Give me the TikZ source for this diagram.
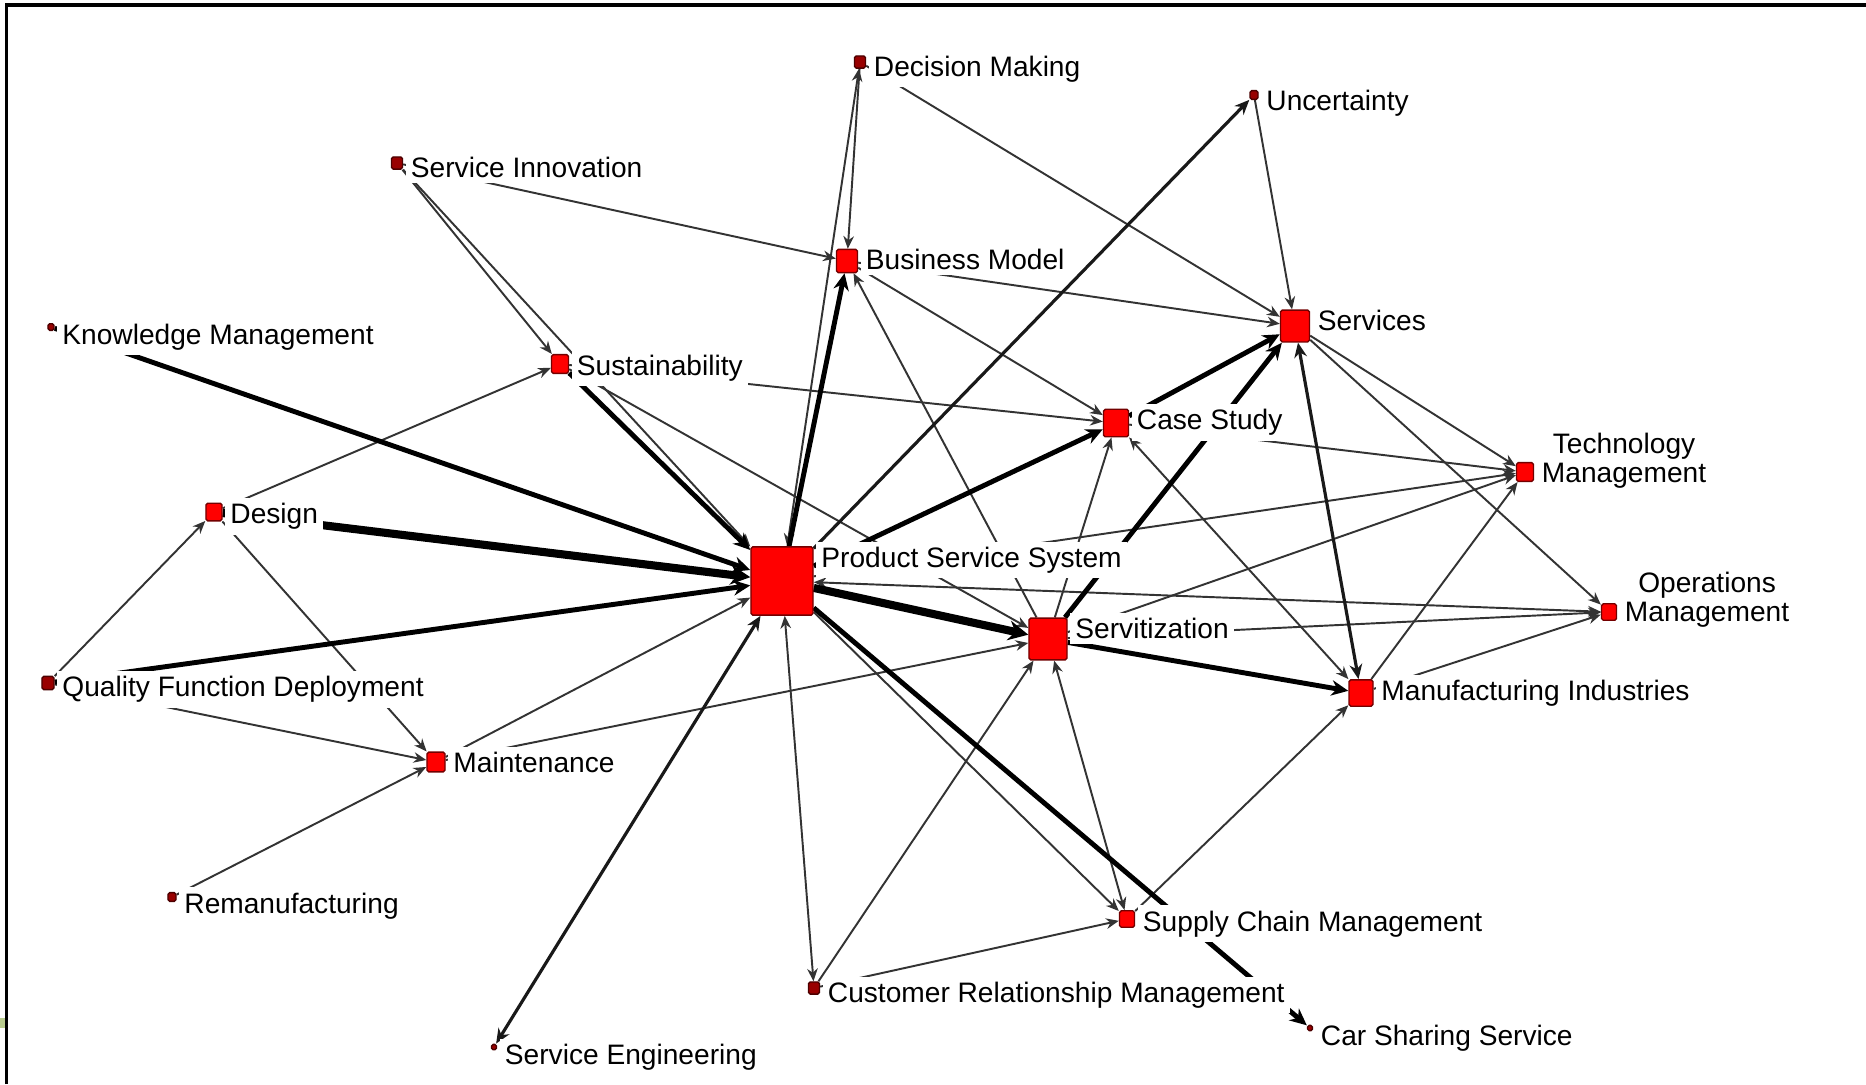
\documentclass[tikz,border=0pt]{standalone}
\usepackage{fontspec}
\setmainfont{Liberation Sans}
\usetikzlibrary{arrows.meta,positioning,backgrounds}
\definecolor{edgegreen}{RGB}{185,204,142}

\begin{document}
\begin{tikzpicture}[x=0.01cm, y=-0.01cm,
  kwbox/.style={draw=red!45!black, fill=red, line width=0.4pt, rounded corners=0.5pt,
    inner sep=0pt, minimum width=#1, minimum height=1.1*#1},
  kwdot/.style={kwbox=#1, fill=red!60!black, draw=red!30!black},
  kwtext/.style={fill=white, inner sep=1.5pt, text=black,
    font=\fontsize{8}{8.1}\selectfont},
  tie/.style={draw=black!80, line width=0.55pt, -{Stealth[length=3.6pt,width=3pt]}},
  tiemid/.style={draw=black!90, line width=0.9pt, -{Stealth[length=4.2pt,width=3.6pt]}},
  tiebold/.style={draw=black, line width=1.4pt, -{Stealth[length=4.8pt,width=4.4pt]}},
  tieheavy/.style={draw=black, line width=2.3pt, -{Stealth[length=5.6pt,width=5.6pt]}},
  twoway/.style={{Stealth[length=3.6pt,width=3pt]}-{Stealth[length=3.6pt,width=3pt]}},
  twowaymid/.style={{Stealth[length=4.2pt,width=3.6pt]}-{Stealth[length=4.2pt,width=3.6pt]}}
]
\useasboundingbox (0,0) rectangle (1866,1084);

% keyword squares
\node[kwdot=0.11cm] (decision) at (860,62) {};
\node[kwdot=0.08cm] (uncertainty) at (1254,95) {};
\node[kwdot=0.11cm] (innovation) at (397,163) {};
\node[kwbox=0.21cm] (business) at (847,261) {};
\node[kwbox=0.29cm] (services) at (1295,326) {};
\node[kwdot=0.06cm] (knowledge) at (51,327) {};
\node[kwbox=0.17cm] (sustain) at (560,364) {};
\node[kwbox=0.25cm] (casestudy) at (1116,423) {};
\node[kwbox=0.17cm] (technology) at (1525,472) {};
\node[kwbox=0.16cm] (design) at (214,512) {};
\node[kwbox=0.62cm] (pss) at (782,581) {};
\node[kwbox=0.15cm] (operations) at (1609,612) {};
\node[kwbox=0.38cm] (servitization) at (1048,639) {};
\node[kwdot=0.12cm] (qfd) at (48,683) {};
\node[kwbox=0.24cm] (manufacturing) at (1361,693) {};
\node[kwbox=0.18cm] (maintenance) at (436,762) {};
\node[kwdot=0.08cm] (reman) at (172,897) {};
\node[kwbox=0.15cm] (supply) at (1127,919) {};
\node[kwdot=0.11cm] (crm) at (814,988) {};
\node[kwdot=0.05cm] (carsharing) at (1310,1028) {};
\node[kwdot=0.05cm] (engineering) at (494,1047) {};

\begin{scope}[on background layer]
  \fill[white] (0,0) rectangle (1866,1084);
  \fill[edgegreen] (0,1018) rectangle (5,1028);
  \draw[line width=1.1pt] (6.5,1084) -- (6.5,5) -- (1866,5);
  % thin ties
  \foreach \a/\b in {innovation/business, innovation/sustain, innovation/pss, sustain/casestudy,
    sustain/servitization, design/sustain, design/maintenance, qfd/design, qfd/maintenance,
    reman/maintenance, maintenance/pss, maintenance/servitization, crm/servitization, crm/supply,
    pss/supply, supply/manufacturing, servitization/operations, uncertainty/services,
    business/services, business/casestudy, servitization/business, services/technology,
    services/operations, casestudy/technology, servitization/casestudy, pss/technology,
    servitization/technology, manufacturing/technology, manufacturing/operations,
    decision/services, decision/business}
    \draw[tie] (\a) -- (\b);
  \foreach \a/\b in {pss/crm, servitization/supply, pss/operations, casestudy/manufacturing,
    decision/pss}
    \draw[tie, twoway] (\a) -- (\b);
  % heavier ties
  \draw[tiemid, twowaymid] (engineering) -- (pss);
  \draw[tiemid, twowaymid] (services) -- (manufacturing);
  \draw[tiemid] (pss) -- (uncertainty);
  \foreach \a/\b in {sustain/pss, qfd/pss, knowledge/pss, pss/carsharing,
    servitization/manufacturing, pss/casestudy, casestudy/services, servitization/services,
    pss/business}
    \draw[tiebold] (\a) -- (\b);
  \foreach \a/\b in {design/pss, pss/servitization}
    \draw[tieheavy] (\a) -- (\b);
\end{scope}

% labels
\node[kwtext, below right=-1.5pt and 0.5pt of decision.north east] (decision-txt) {Decision Making};
\node[kwtext, below right=-1.5pt and 0.5pt of uncertainty.north east] (uncertainty-txt) {Uncertainty};
\node[kwtext, below right=-1.5pt and 0.5pt of innovation.north east] (innovation-txt) {Service Innovation};
\node[kwtext, below right=-1.5pt and 0.5pt of business.north east] (business-txt) {Business Model};
\node[kwtext, below right=-1.5pt and 0.5pt of services.north east] (services-txt) {Services};
\node[kwtext, below right=-1.5pt and 0.5pt of knowledge.north east] (knowledge-txt) {Knowledge Management};
\node[kwtext, below right=-1.5pt and 0.5pt of sustain.north east] (sustain-txt) {Sustainability};
\node[kwtext, below right=-1.5pt and 0.5pt of casestudy.north east] (casestudy-txt) {Case Study};
\node[kwtext, align=center, above right=-3.4pt and 0.5pt of technology.south east] (technology-txt) {Technology\\Management};
\node[kwtext, below right=-1.5pt and 0.5pt of design.north east] (design-txt) {Design};
\node[kwtext, below right=-1.5pt and 0.5pt of pss.north east] (pss-txt) {Product Service System};
\node[kwtext, align=center, above right=-3.4pt and 0.5pt of operations.south east] (operations-txt) {Operations\\Management};
\node[kwtext, below right=-1.5pt and 0.5pt of servitization.north east] (servitization-txt) {Servitization};
\node[kwtext, below right=-1.5pt and 0.5pt of qfd.north east] (qfd-txt) {Quality Function Deployment};
\node[kwtext, below right=-1.5pt and 0.5pt of manufacturing.north east] (manufacturing-txt) {Manufacturing Industries};
\node[kwtext, below right=-1.5pt and 0.5pt of maintenance.north east] (maintenance-txt) {Maintenance};
\node[kwtext, below right=-1.5pt and 0.5pt of reman.north east] (reman-txt) {Remanufacturing};
\node[kwtext, below right=-1.5pt and 0.5pt of supply.north east] (supply-txt) {Supply Chain Management};
\node[kwtext, below right=-1.5pt and 0.5pt of crm.north east] (crm-txt) {Customer Relationship Management};
\node[kwtext, below right=-1.5pt and 0.5pt of carsharing.north east] (carsharing-txt) {Car Sharing Service};
\node[kwtext, below right=-1.5pt and 0.5pt of engineering.north east] (engineering-txt) {Service Engineering};
\end{tikzpicture}
\end{document}
